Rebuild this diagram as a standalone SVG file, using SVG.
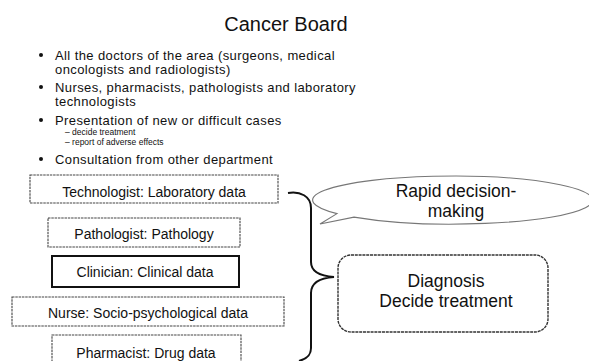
<svg xmlns="http://www.w3.org/2000/svg" width="589" height="361" viewBox="0 0 589 361">
<style>
  text { font-family: "Liberation Sans", Arial, sans-serif; fill: #111; }
  .title { font-size: 20px; text-anchor: middle; }
  .bul { font-size: 13px; letter-spacing: 0.4px; }
  .sub { font-size: 8.5px; }
  .lbl { font-size: 14px; text-anchor: middle; }
  .big { font-size: 17.5px; text-anchor: middle; }
  .box { fill: #fff; stroke: #444; stroke-width: 1.1; stroke-dasharray: 2.5 0.8; }
  .solid { fill: #fff; stroke: #111; stroke-width: 2; }
  .dot { fill: #111; }
</style>
<rect width="589" height="361" fill="#fff"/>
<text class="title" x="286" y="31">Cancer Board</text>
<g id="bullets">
  <circle class="dot" cx="41" cy="55" r="2"/>
  <text class="bul" x="55" y="60">All the doctors of the area (surgeons, medical</text>
  <text class="bul" x="55" y="74">oncologists and radiologists)</text>
  <circle class="dot" cx="41" cy="87" r="2"/>
  <text class="bul" x="55" y="92">Nurses, pharmacists, pathologists and laboratory</text>
  <text class="bul" x="55" y="106">technologists</text>
  <circle class="dot" cx="41" cy="120" r="2"/>
  <text class="bul" x="55" y="125">Presentation of new or difficult cases</text>
  <text class="sub" x="65" y="135">–  decide treatment</text>
  <text class="sub" x="65" y="145">–  report of adverse effects</text>
  <circle class="dot" cx="41" cy="159" r="2"/>
  <text class="bul" x="55" y="164">Consultation from other department</text>
</g>
<g id="connectors">
  <path d="M 288 193 C 300 191, 311 196, 311 208 L 311 262 C 311 272, 320 276, 334 277 C 320 278, 311 283, 311 293 L 311 348 C 311 356, 306 359, 299 361" fill="none" stroke="#111" stroke-width="2"/>
</g>
<g id="technologist">
  <rect class="box" x="30" y="175" width="248" height="28"/>
  <text class="lbl" x="154" y="197">Technologist: Laboratory data</text>
</g>
<g id="pathologist">
  <rect class="box" x="48" y="218" width="192" height="29"/>
  <text class="lbl" x="144" y="239">Pathologist: Pathology</text>
</g>
<g id="clinician">
  <rect class="solid" x="52" y="256" width="187" height="31"/>
  <text class="lbl" x="145" y="277">Clinician: Clinical data</text>
</g>
<g id="nurse">
  <rect class="box" x="12" y="297" width="272" height="29"/>
  <text class="lbl" x="148" y="318">Nurse: Socio-psychological data</text>
</g>
<g id="pharmacist">
  <rect class="box" x="52" y="335" width="189" height="34"/>
  <text class="lbl" x="146" y="358">Pharmacist: Drug data</text>
</g>
<g id="rapid">
  <path d="M 337 213.6 L 320 224 L 354 217.1 A 140 24 0 1 0 337 213.6 Z" fill="#fff" stroke="#777" stroke-width="1.1"/>
  <text class="big" x="456" y="197">Rapid decision-</text>
  <text class="big" x="456" y="217">making</text>
</g>
<g id="diagnosis">
  <rect x="338" y="255" width="210" height="77" rx="13" fill="#fff" stroke="#333" stroke-width="1.4" stroke-dasharray="3 0.8"/>
  <text class="big" x="446" y="287">Diagnosis</text>
  <text class="big" x="446" y="307">Decide treatment</text>
</g>
</svg>
